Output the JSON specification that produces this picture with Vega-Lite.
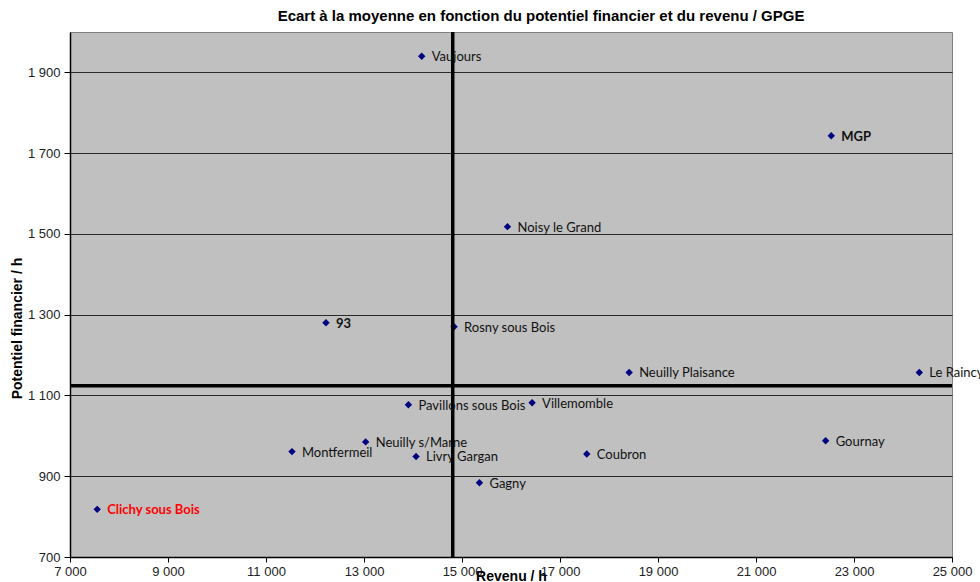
{
  "$schema": "https://vega.github.io/schema/vega-lite/v6.json",
  "width": 882,
  "height": 525,
  "autosize": "none",
  "padding": {"left": 70, "top": 32, "right": 28, "bottom": 25},
  "background": "white",
  "title": {
    "text": "Ecart à la moyenne en fonction du potentiel financier et du revenu / GPGE",
    "font": "Liberation Sans",
    "fontSize": 15,
    "fontWeight": "bold",
    "color": "black",
    "anchor": "middle",
    "dx": 30,
    "offset": 6
  },
  "config": {
    "view": {"fill": "#C0C0C0", "stroke": "#808080", "strokeWidth": 1}
  },
  "datasets": {
    "communes": [
      {"commune": "Vaujours", "revenu": 14178, "potentiel": 1940},
      {"commune": "MGP", "revenu": 22536, "potentiel": 1743},
      {"commune": "Noisy le Grand", "revenu": 15928, "potentiel": 1518},
      {"commune": "93", "revenu": 12224, "potentiel": 1280},
      {"commune": "Rosny sous Bois", "revenu": 14838, "potentiel": 1270},
      {"commune": "Neuilly Plaisance", "revenu": 18411, "potentiel": 1157},
      {"commune": "Le Raincy", "revenu": 24333, "potentiel": 1157},
      {"commune": "Pavillons sous Bois", "revenu": 13906, "potentiel": 1077},
      {"commune": "Villemomble", "revenu": 16431, "potentiel": 1082},
      {"commune": "Neuilly s/Marne", "revenu": 13034, "potentiel": 985},
      {"commune": "Montfermeil", "revenu": 11530, "potentiel": 961},
      {"commune": "Livry Gargan", "revenu": 14062, "potentiel": 949},
      {"commune": "Coubron", "revenu": 17547, "potentiel": 955},
      {"commune": "Gournay", "revenu": 22421, "potentiel": 988},
      {"commune": "Gagny", "revenu": 15356, "potentiel": 884},
      {"commune": "Clichy sous Bois", "revenu": 7555, "potentiel": 818}
    ],
    "moyennes": [
      {"revenu_moyen": 14811, "potentiel_moyen": 1124}
    ]
  },
  "layer": [
    {
      "data": {"name": "communes"},
      "mark": {"type": "point", "shape": "diamond", "filled": true, "size": 55, "color": "#000080", "opacity": 1},
      "encoding": {
        "x": {
          "field": "revenu", "type": "quantitative",
          "scale": {"domain": [7000, 25000], "nice": false, "zero": false},
          "axis": {
            "title": "Revenu / h",
            "values": [7000, 9000, 11000, 13000, 15000, 17000, 19000, 21000, 23000, 25000],
            "labelExpr": "replace(format(datum.value, ','), ',', ' ')",
            "grid": false,
            "domainColor": "black",
            "domainWidth": 1.5,
            "tickColor": "black",
            "tickSize": 5,
            "labelFont": "Liberation Sans",
            "labelFontSize": 13,
            "labelColor": "#222",
            "labelPadding": 3,
            "labelFlush": false,
            "titleFont": "Liberation Sans",
            "titleFontSize": 14,
            "titleFontWeight": "bold",
            "titleColor": "black",
            "titleBaseline": "top",
            "titleY": 12
          }
        },
        "y": {
          "field": "potentiel", "type": "quantitative",
          "scale": {"domain": [700, 2000], "nice": false, "zero": false},
          "axis": {
            "title": "Potentiel financier / h",
            "values": [700, 900, 1100, 1300, 1500, 1700, 1900],
            "labelExpr": "replace(format(datum.value, ','), ',', ' ')",
            "grid": true,
            "gridColor": "#2a2a2a",
            "gridWidth": 1,
            "gridOpacity": 1,
            "domainColor": "black",
            "domainWidth": 1.5,
            "tickColor": "black",
            "tickSize": 6,
            "labelFont": "Liberation Sans",
            "labelFontSize": 13,
            "labelColor": "#222",
            "labelPadding": 4,
            "titleFont": "Liberation Sans",
            "titleFontSize": 14,
            "titleFontWeight": "bold",
            "titleColor": "black",
            "titleAngle": 270,
            "titleAlign": "center",
            "titleBaseline": "middle",
            "titleX": -53,
            "titleY": 296
          }
        }
      }
    },
    {
      "data": {"name": "moyennes"},
      "mark": {"type": "rule", "color": "black", "strokeWidth": 3.5},
      "encoding": {"x": {"field": "revenu_moyen", "type": "quantitative"}}
    },
    {
      "data": {"name": "moyennes"},
      "mark": {"type": "rule", "color": "black", "strokeWidth": 3.5},
      "encoding": {"y": {"field": "potentiel_moyen", "type": "quantitative"}}
    },
    {
      "data": {"name": "communes"},
      "transform": [{"filter": "datum.commune !== 'MGP' && datum.commune !== '93' && datum.commune !== 'Clichy sous Bois'"}],
      "mark": {"type": "text", "align": "left", "baseline": "middle", "dx": 10, "dy": 1, "font": "Lato", "fontSize": 13, "color": "#111"},
      "encoding": {
        "x": {"field": "revenu", "type": "quantitative"},
        "y": {"field": "potentiel", "type": "quantitative"},
        "text": {"field": "commune"}
      }
    },
    {
      "data": {"name": "communes"},
      "transform": [{"filter": "datum.commune === 'MGP' || datum.commune === '93' || datum.commune === 'Clichy sous Bois'"}],
      "mark": {"type": "text", "align": "left", "baseline": "middle", "dx": 10, "dy": 1, "font": "Lato", "fontSize": 13, "fontWeight": "bold"},
      "encoding": {
        "x": {"field": "revenu", "type": "quantitative"},
        "y": {"field": "potentiel", "type": "quantitative"},
        "text": {"field": "commune"},
        "color": {
          "condition": {"test": "datum.commune === 'Clichy sous Bois'", "value": "#FF0000"},
          "value": "#111"
        }
      }
    }
  ]
}
